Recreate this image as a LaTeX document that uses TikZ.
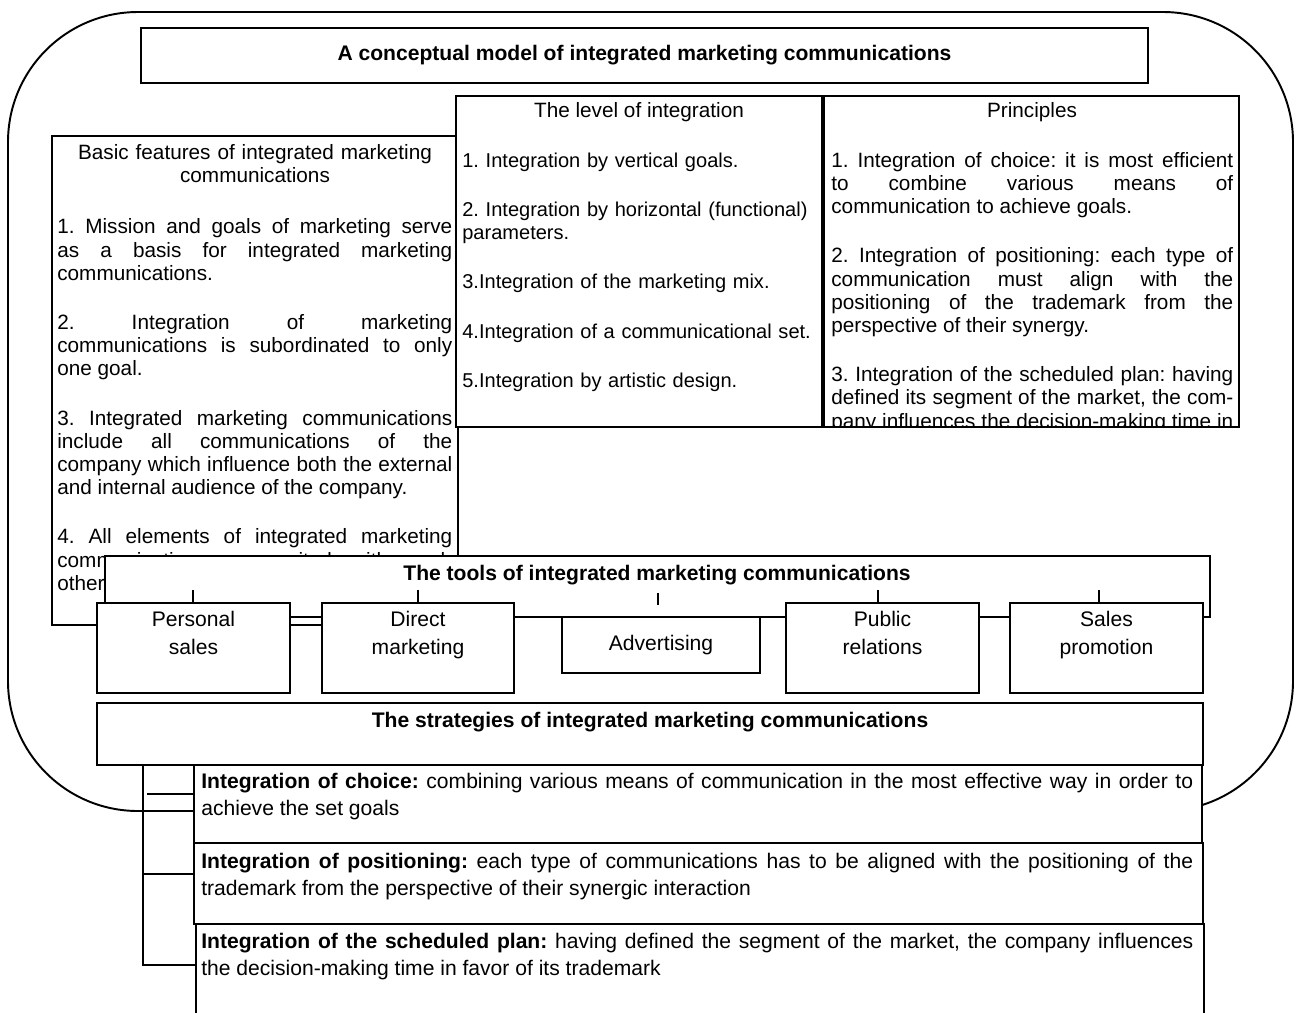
\documentclass[tikz,border=0pt]{standalone}
\usepackage{fontspec}
\setmainfont{Liberation Sans}
\usetikzlibrary{fit}
\tolerance=9999
\hyphenpenalty=10000
\frenchspacing
\begin{document}
\frenchspacing
\begin{tikzpicture}[x=0.02cm, y=-0.02cm,
  box/.style={draw, fill=white, line width=1.1pt, inner sep=0pt},
  ln/.style={line width=1.1pt},
  upper/.style={font=\fontsize{11.8}{13.2}\selectfont\frenchspacing, inner sep=0pt},
  levelf/.style={font=\fontsize{11.4}{13.2}\selectfont\frenchspacing, inner sep=0pt},
  lower/.style={font=\fontsize{12}{15.4}\selectfont\frenchspacing, inner sep=0pt},
  tool/.style={font=\fontsize{12}{15.9}\selectfont, inner sep=0pt, align=center},
  ttl/.style={font=\fontsize{12}{14}\selectfont\bfseries, inner sep=0pt, anchor=base}]
\useasboundingbox (0,0) rectangle (1296,1012);
\clip (0,0) rectangle (1296,1012);
% outer frame
\draw[ln, rounded corners=2.6cm] (8,12) rectangle (1293,811);
% title
\node[box, fit={(141,28) (1148,83)}] (title) {};
\node[ttl] at (644.5,60) {A conceptual model of integrated marketing communications};
% basic features
\node[box, fit={(52,136) (458,625)}] (basic) {};
\node[upper, anchor=north, text width=7.9cm, align=center] at (255,142.8)
  {\strut Basic features of integrated marketing\\communications};
\node[upper, anchor=north west, text width=7.9cm, align=justify] at (57,217.3)
  {\strut 1. Mission and goals of marketing serve\linebreak as a basis for integrated marketing\linebreak communications.\\[14.8pt]
   2. Integration of marketing\linebreak communications is subordinated to only\linebreak one goal.\\[14.8pt]
   3. Integrated marketing communications\linebreak include all communications of the\linebreak company which influence both the external\linebreak and internal audience of the company.\\[14.8pt]
   4. All elements of integrated marketing\linebreak communications are united with each\linebreak other.};
% level of integration
\node[box, fit={(456,96) (822,427)}] (level) {};
\node[upper, anchor=base] at (639,117.5) {The level of integration};
\node[levelf, anchor=north west, text width=7.5cm, align=left] at (462,150.8)
  {\strut 1. Integration by vertical goals.\\[14.8pt]
   2. Integration by horizontal (functional)\\parameters.\\[14.8pt]
   3.Integration of the marketing mix.\\[14.8pt]
   4.Integration of a communicational set.\\[14.8pt]
   5.Integration by artistic design.};
% principles
\node[box, fit={(824,96) (1239,427)}] (princ) {};
\node[upper, anchor=base] at (1032,117.5) {Principles};
\begin{scope}
\clip (princ.north west) rectangle (princ.south east);
\node[upper, anchor=north west, text width=8.04cm, align=justify] at (831,150.8)
  {\strut 1. Integration of choice: it is most efficient\linebreak to combine various means of\linebreak communication to achieve goals.\\[14.8pt]
   2. Integration of positioning: each type of\linebreak communication must align with the\linebreak positioning of the trademark from the\linebreak perspective of their synergy.\\[14.8pt]
   3. Integration of the scheduled plan: having\linebreak defined its segment of the market, the com-\linebreak pany influences the decision-making time in favor of its trademark.};
\end{scope}
% tools
\node[box, fit={(105,556) (1210,617)}] (tools) {};
\node[ttl] at (657,580) {The tools of integrated marketing communications};
\node[box, fit={(97,603) (290,693)}] (ps) {};
\node[box, fit={(322,603) (514,693)}] (dm) {};
\node[box, fit={(562,617) (760,673)}] (adv) {};
\node[box, fit={(786,603) (979,693)}] (pr) {};
\node[box, fit={(1010,603) (1203,693)}] (sp) {};
\node[tool, below=0.09cm] at (ps.north) {\strut Personal\\sales};
\node[tool, below=0.09cm] at (dm.north) {\strut Direct\\marketing};
\node[tool] at (adv.center) {Advertising};
\node[tool, below=0.09cm] at (pr.north) {\strut Public\\relations};
\node[tool, below=0.09cm] at (sp.north) {\strut Sales\\promotion};
\coordinate (t1) at (193,590);
\coordinate (t2) at (418,590);
\coordinate (t3a) at (658,593);
\coordinate (t3b) at (658,605);
\coordinate (t4) at (878,590);
\coordinate (t5) at (1099,590);
\draw[ln] (t1) -- (t1 |- ps.north);
\draw[ln] (t2) -- (t2 |- dm.north);
\draw[ln] (t3a) -- (t3b);
\draw[ln] (t4) -- (t4 |- pr.north);
\draw[ln] (t5) -- (t5 |- sp.north);
% strategies
\node[box, fit={(97,703) (1203,765)}] (strat) {};
\node[ttl] at (650,727) {The strategies of integrated marketing communications};
\node[box, fit={(194,765) (1202,843)}] (choice) {};
\node[box, fit={(194,843) (1203,924)}] (pos) {};
\node[box, fit={(196,924) (1204,1040)}] (plan) {};
\node[lower, anchor=north west, text width=19.84cm, align=justify] at (201,769.5)
  {\strut\textbf{Integration of choice:} combining various means of communication in the most effective way in order to\linebreak achieve the set goals};
\node[lower, anchor=north west, text width=19.84cm, align=justify] at (201,849.5)
  {\strut\textbf{Integration of positioning:} each type of communications has to be aligned with the positioning of the\linebreak trademark from the perspective of their synergic interaction};
\node[lower, anchor=north west, text width=19.84cm, align=justify] at (201,929.5)
  {\strut\textbf{Integration of the scheduled plan:} having defined the segment of the market, the company influences\linebreak the decision-making time in favor of its trademark};
% bracket
\coordinate (b0) at (147,794);
\coordinate (b1) at (143,765);
\coordinate (b3) at (143,874);
\coordinate (b4) at (143,965);
\draw[ln] (b1) -- (b4) -- (b4 -| plan.west);
\draw[ln] (b0) -- (b0 -| choice.west);
\draw[ln] (b3) -- (b3 -| pos.west);
\end{tikzpicture}
\end{document}
